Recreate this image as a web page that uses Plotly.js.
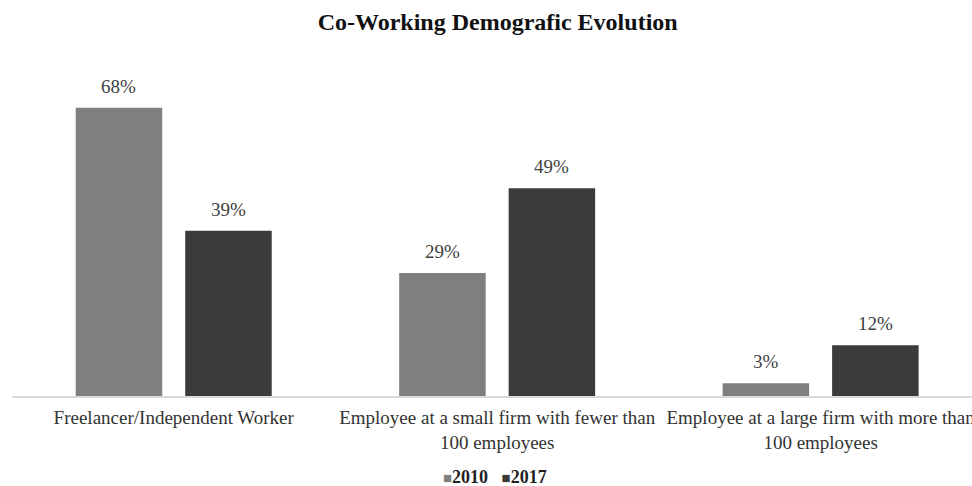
<!DOCTYPE html>
<html>
<head>
<meta charset="utf-8">
<script src="https://cdn.plot.ly/plotly-3.0.1.min.js"></script>
<style>html,body{margin:0;padding:0;background:#fff;overflow:hidden}#chart{width:972px;height:486px}</style>
</head>
<body>
<div id="chart"></div>
<script>
const categories = ["Freelancer/Independent Worker", "Employee at a small firm with fewer than<br>100 employees", "Employee at a large firm with more than<br>100 employees"];
const seriesNames = ["2010", "2017"];
const values2010 = [68, 29, 3];
const values2017 = [39, 49, 12];
const colors = ["#7f7f7f", "#3b3b3b"];
const serif = "Liberation Serif, Times New Roman, serif";

const allSeries = [values2010, values2017];
const traces = allSeries.map((vals, i) => ({
  type: "bar",
  name: seriesNames[i],
  x: categories,
  y: vals,
  marker: {color: colors[i]},
  hoverinfo: "skip"
}));

// value labels above bars (bar centre offset = half of a group slot)
const bargap = 0.323;
const slot = (1 - bargap) / allSeries.length;
const labelAnns = [];
allSeries.forEach((vals, i) => {
  vals.forEach((v, j) => {
    labelAnns.push({
      xref: "x", yref: "y", x: j + (i - (allSeries.length - 1) / 2) * slot, y: v,
      yanchor: "bottom", xanchor: "center", yshift: 9, showarrow: false,
      text: v + "%", font: {family: serif, size: 19, color: "#404040"}
    });
  });
});

const legendText = seriesNames.map((n, i) =>
  '<span style="color:' + colors[i] + '; font-size:15px">■</span><b>' + n + '</b>').join("&nbsp;&nbsp;&nbsp;");

const layout = {
  width: 972, height: 486,
  margin: {l: 12, r: 0, t: 57, b: 90, autoexpand: false},
  paper_bgcolor: "#fff", plot_bgcolor: "#fff",
  title: {text: "<b>Co-Working Demografic Evolution</b>", font: {family: serif, size: 24, color: "#111"}, x: 0.512, xanchor: "center", y: 0.955, yanchor: "middle"},
  barmode: "group", bargap: bargap, bargroupgap: 0.21,
  xaxis: {range: [-0.5, 2.468], showline: true, linecolor: "#d9d9d9", linewidth: 1.5, ticks: "", tickangle: 0,
          ticklabelstandoff: 4, automargin: false,
          tickfont: {family: serif, size: 19, color: "#333"}, fixedrange: true},
  yaxis: {range: [0, 80], visible: false, showgrid: false, zeroline: false, fixedrange: true},
  showlegend: false,
  annotations: labelAnns.concat([{
    xref: "paper", yref: "paper", x: 0.5035, y: -0.238, xanchor: "center", yanchor: "middle",
    text: legendText, showarrow: false,
    font: {family: serif, size: 18, color: "#222"}
  }]),
  font: {family: serif}
};

Plotly.newPlot("chart", traces, layout, {displayModeBar: false, staticPlot: true});
</script>
</body>
</html>
